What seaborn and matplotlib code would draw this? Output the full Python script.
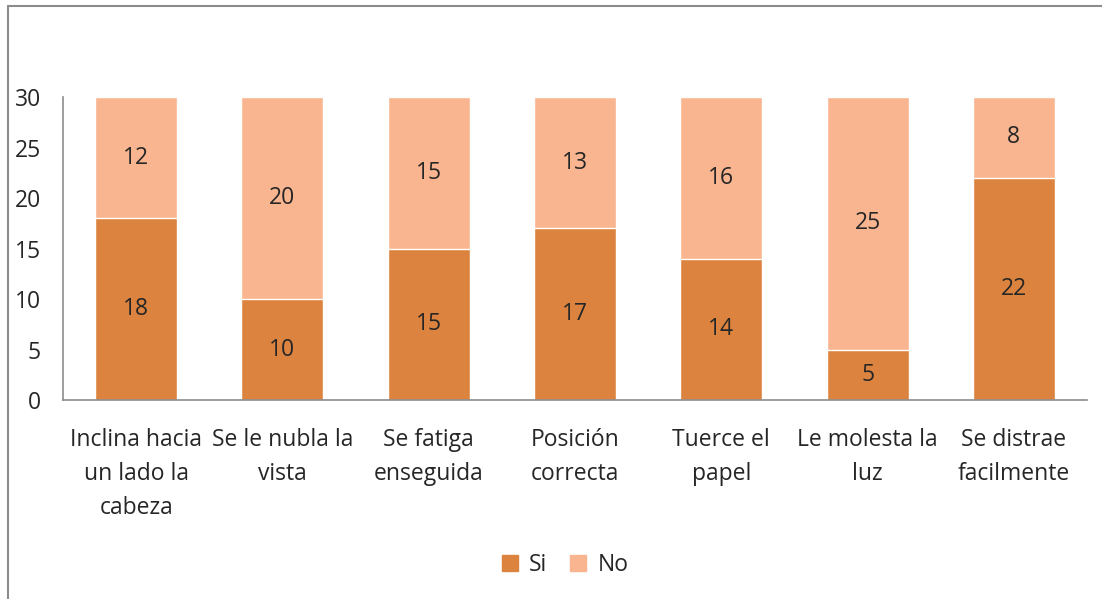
import numpy as np
import pandas as pd
import seaborn as sns
import matplotlib.pyplot as plt
from matplotlib.patches import Patch
from matplotlib.lines import Line2D

# datos de la encuesta
categorias = ['Inclina hacia\nun lado la\ncabeza', 'Se le nubla la\nvista',
              'Se fatiga\nenseguida', 'Posición\ncorrecta', 'Tuerce el\npapel',
              'Le molesta la\nluz', 'Se distrae\nfacilmente']
si = [18, 10, 15, 17, 14, 5, 22]
no = [12, 20, 15, 13, 16, 25, 8]

colSi = '#DC843F'
colNo = '#F9B590'
fs = 16.5

sns.set_style('white')
plt.rcParams['font.family'] = ['Open Sans', 'DejaVu Sans']

dat = pd.DataFrame({'cat': categorias, 'Si': si, 'No': no})
dat['total'] = dat['Si'] + dat['No']

fig = plt.figure(figsize=(11.02, 5.99), dpi=100)
ax = fig.add_axes([0.0572, 0.332, 0.9292, 0.506])

# barras apiladas: total (No encima) y luego Si
sns.barplot(x='cat', y='total', data=dat, color=colNo, width=0.56,
            saturation=1, ax=ax)
sns.barplot(x='cat', y='Si', data=dat, color=colSi, width=0.56,
            saturation=1, ax=ax)

for i in range(len(dat)):
    ax.text(i, si[i] / 2, str(si[i]), ha='center', va='center', fontsize=fs)
    ax.text(i, si[i] + no[i] / 2, str(no[i]), ha='center', va='center', fontsize=fs)

ax.set_ylim(0, 30)
ax.set_xlim(-0.5, len(dat) - 0.5)
ax.set_yticks(np.arange(0, 31, 5))
ax.set_xlabel('')
ax.set_ylabel('')
ax.tick_params(axis='y', labelsize=fs, pad=16, length=0)
ax.tick_params(axis='x', labelsize=fs, pad=20, length=0)
for lab in ax.get_xticklabels():
    lab.set_linespacing(1.57)

for s in ['top', 'right']:
    ax.spines[s].set_visible(False)
for s in ['left', 'bottom']:
    ax.spines[s].set_color('#8C8C8C')
    ax.spines[s].set_linewidth(1.2)

handles = [Patch(color=colSi, label='Si'), Patch(color=colNo, label='No')]
fig.legend(handles=handles, loc='center', bbox_to_anchor=(0.513, 0.056),
           ncol=2, frameon=False, fontsize=fs, handlelength=0.7,
           handleheight=0.7, handletextpad=0.5, columnspacing=1.0)

# marco del grafico
fig.add_artist(Line2D([0.0075, 1.0], [0.9895, 0.9895], color='#8C8C8C', lw=1.5))
fig.add_artist(Line2D([0.0075, 0.0075], [0.0, 0.9895], color='#8C8C8C', lw=1.5))

plt.savefig('out.png', dpi=100)
